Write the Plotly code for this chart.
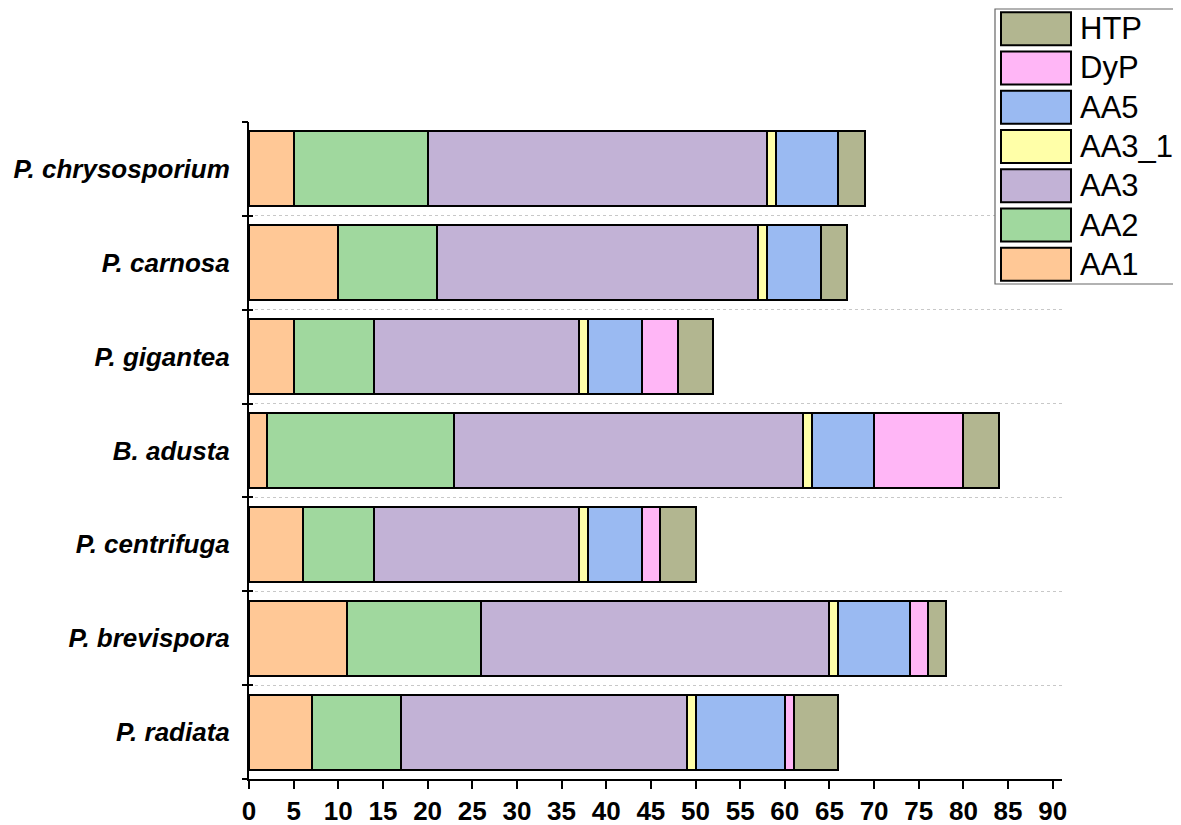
import plotly.graph_objects as go

# ---- data ----
species = ["P. chrysosporium", "P. carnosa", "P. gigantea", "B. adusta",
           "P. centrifuga", "P. brevispora", "P. radiata"]
series_names = ["AA1", "AA2", "AA3", "AA3_1", "AA5", "DyP", "HTP"]
AA1 = [5, 10, 5, 2, 6, 11, 7]
AA2 = [15, 11, 9, 21, 8, 15, 10]
AA3 = [38, 36, 23, 39, 23, 39, 32]
AA3_1 = [1, 1, 1, 1, 1, 1, 1]
AA5 = [7, 6, 6, 7, 6, 8, 10]
DyP = [0, 0, 4, 10, 2, 2, 1]
HTP = [3, 3, 4, 4, 4, 2, 5]
series_values = [AA1, AA2, AA3, AA3_1, AA5, DyP, HTP]
colors = ["#FFC896", "#A0D89E", "#C2B2D6", "#FFFFA8", "#9ABAF2", "#FFB6F6", "#B2B690"]
x_ticks = list(range(0, 91, 5))

# ---- layout constants (page pixels; page body has an 8px margin) ----
OFF = 8
W, H = 1181 - OFF, 825 - OFF
L, R, T, B = 249 - OFF, 1062 - OFF, 122 - OFF, 779 - OFF
n = len(species)
ypos = [n - 1 - i for i in range(n)]
yr = [-0.5, n - 0.5]
boundaries = [k - 0.5 for k in range(n + 1)]
inner = boundaries[1:-1]
FONT = "Liberation Sans, Arial, sans-serif"

fig = go.Figure()
for name, vals, col in zip(series_names, series_values, colors):
    fig.add_trace(go.Bar(
        y=ypos, x=vals, name=name, orientation="h", width=0.8,
        marker=dict(color=col, line=dict(color="black", width=2)),
        showlegend=False))

for ax in ["y2", "y3", "y4"]:
    fig.add_trace(go.Scatter(x=[None], y=[None], yaxis=ax, showlegend=False,
                             hoverinfo="skip"))

xmax = (R - L) / 8.93
fig.update_layout(
    width=W, height=H,
    margin=dict(l=L, r=W - R, t=T, b=H - B, pad=0, autoexpand=False),
    paper_bgcolor="white", plot_bgcolor="white",
    barmode="stack", bargap=0.2,
    font=dict(family=FONT, color="black"),
    xaxis=dict(range=[0, xmax], tickvals=x_ticks, ticks="outside", ticklen=8,
               tickwidth=2, tickcolor="black", showline=True, linewidth=2,
               linecolor="black", showgrid=False, zeroline=False, automargin=False,
               tickfont=dict(family=FONT, size=26, color="black", weight="bold")),
    yaxis=dict(range=yr, tickvals=ypos, ticktext=species, ticks="",
               showline=True, linewidth=2, linecolor="black", showgrid=False,
               zeroline=False, ticklabelstandoff=12, automargin=False,
               tickfont=dict(family=FONT, size=26, color="black",
                             weight="bold", style="italic")),
    yaxis2=dict(range=yr, overlaying="y", tickvals=boundaries, ticks="outside",
                ticklen=6, tickwidth=2, tickcolor="black", showticklabels=False,
                showgrid=False, zeroline=False, showline=False, automargin=False),
    yaxis3=dict(range=yr, overlaying="y", tickvals=boundaries, ticks="inside",
                ticklen=4, tickwidth=2, tickcolor="black", showticklabels=False,
                showgrid=False, zeroline=False, showline=False, automargin=False),
    yaxis4=dict(range=yr, overlaying="y", tickvals=inner, ticks="",
                showticklabels=False, showgrid=True, griddash="dot",
                gridcolor="#c8c8c8", gridwidth=1, zeroline=False, showline=False,
                automargin=False),
)

# ---- manual legend (paper coords from page pixel positions) ----
def px(x):
    return (x - OFF - L) / (R - L)

def py(y):
    return (B - (y - OFF)) / (B - T)

box_l, box_r, box_t, box_b = 995, 1179, 9, 284
shapes = [dict(type="rect", xref="paper", yref="paper",
               x0=px(box_l), x1=px(box_r), y0=py(box_b), y1=py(box_t),
               line=dict(color="#666666", width=1.2), fillcolor="white", layer="above")]
annotations = []
step = (box_b - box_t) / len(series_names)
for i, (name, col) in enumerate(reversed(list(zip(series_names, colors)))):
    cy = box_t + step * (i + 0.5)
    shapes.append(dict(type="rect", xref="paper", yref="paper",
                       x0=px(1001), x1=px(1071), y0=py(cy + 16.5), y1=py(cy - 16.5),
                       line=dict(color="black", width=2), fillcolor=col, layer="above"))
    annotations.append(dict(xref="paper", yref="paper", x=px(1078), y=py(cy),
                            xanchor="left", yanchor="middle", text=name,
                            showarrow=False,
                            font=dict(family=FONT, size=31, color="black")))
fig.update_layout(shapes=shapes, annotations=annotations)

fig.write_html("out.html", config={"displayModeBar": False})
